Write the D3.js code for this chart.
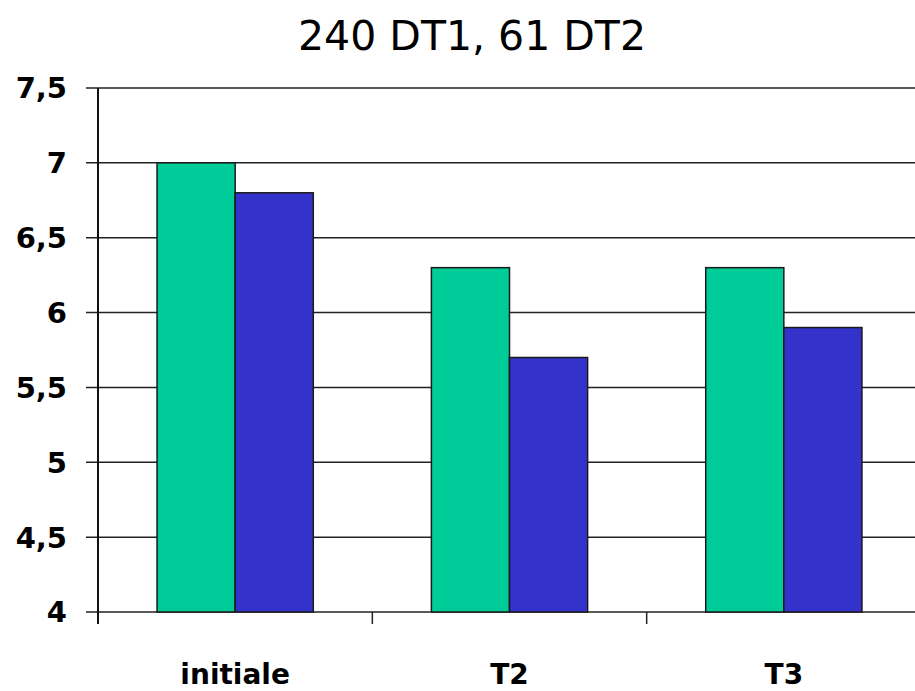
<!DOCTYPE html>
<html>
<head>
<meta charset="utf-8">
<script src="https://cdn.jsdelivr.net/npm/d3@7"></script>
<style>
  body { margin: 0; background: #fff; }
  text { font-family: "Comic Sans MS", "DejaVu Sans", sans-serif; }
</style>
</head>
<body>
<div id="chart"></div>
<script>
const title = "240 DT1, 61 DT2";
const categories = ["initiale", "T2", "T3"];
const seriesA = [7.0, 6.3, 6.3];
const seriesB = [6.8, 5.7, 5.9];
const yTicks = [4, 4.5, 5, 5.5, 6, 6.5, 7, 7.5];

const W = 915, H = 691;
const margin = {top: 88, right: -6, bottom: 79, left: 98};
const width = W - margin.left - margin.right;
const height = H - margin.top - margin.bottom;

const svg = d3.select("#chart").append("svg")
    .attr("width", W)
    .attr("height", H);

svg.append("text")
    .attr("x", 472)
    .attr("y", 50)
    .attr("text-anchor", "middle")
    .style("font-size", "41px")
    .text(title);

const g = svg.append("g")
    .attr("transform", "translate(" + margin.left + "," + margin.top + ")");

const y = d3.scaleLinear().domain([4, 7.5]).range([height, 0]);
const x = d3.scaleBand().domain(categories).range([0, width]).paddingInner(0).paddingOuter(0);
const inner = d3.scaleBand().domain(["a", "b"]).range([0, x.bandwidth()]).paddingOuter(0.756).paddingInner(0);

// gridlines
g.selectAll(".grid")
  .data(yTicks)
  .join("line")
    .attr("x1", -12)
    .attr("x2", width)
    .attr("y1", d => y(d))
    .attr("y2", d => y(d))
    .style("stroke", "#222")
    .style("stroke-width", 1.5);

// y labels
g.selectAll(".ylab")
  .data(yTicks)
  .join("text")
    .attr("x", -31)
    .attr("y", d => y(d))
    .attr("dy", "0.36em")
    .attr("text-anchor", "end")
    .style("font-size", "29px")
    .style("font-weight", "bold")
    .text(d => String(d).replace(".", ","));

// bars
const groups = g.selectAll(".grp")
  .data(categories)
  .join("g")
    .attr("transform", d => "translate(" + x(d) + ",0)");

groups.append("rect")
    .attr("x", inner("a"))
    .attr("width", inner.bandwidth())
    .attr("y", (d, i) => y(seriesA[i]))
    .attr("height", (d, i) => height - y(seriesA[i]))
    .style("fill", "#00CC99")
    .style("stroke", "#1a1a1a")
    .style("stroke-width", 1.5);

groups.append("rect")
    .attr("x", inner("b"))
    .attr("width", inner.bandwidth())
    .attr("y", (d, i) => y(seriesB[i]))
    .attr("height", (d, i) => height - y(seriesB[i]))
    .style("fill", "#3333CC")
    .style("stroke", "#1a1a1a")
    .style("stroke-width", 1.5);

// y axis line
g.append("line")
    .attr("x1", 0).attr("x2", 0)
    .attr("y1", 0).attr("y2", height + 12)
    .style("stroke", "#111")
    .style("stroke-width", 2);

// x ticks
g.selectAll(".xtick")
  .data(categories.slice(1).concat(["end"]))
  .join("line")
    .attr("x1", (d, i) => x.bandwidth() * (i + 1))
    .attr("x2", (d, i) => x.bandwidth() * (i + 1))
    .attr("y1", height)
    .attr("y2", height + 12)
    .style("stroke", "#222")
    .style("stroke-width", 1.5);

// x labels
g.selectAll(".xlab")
  .data(categories)
  .join("text")
    .attr("x", d => x(d) + x.bandwidth() / 2)
    .attr("y", height + 72)
    .attr("text-anchor", "middle")
    .style("font-size", "28px")
    .style("font-weight", "bold")
    .text(d => d);
</script>
</body>
</html>
